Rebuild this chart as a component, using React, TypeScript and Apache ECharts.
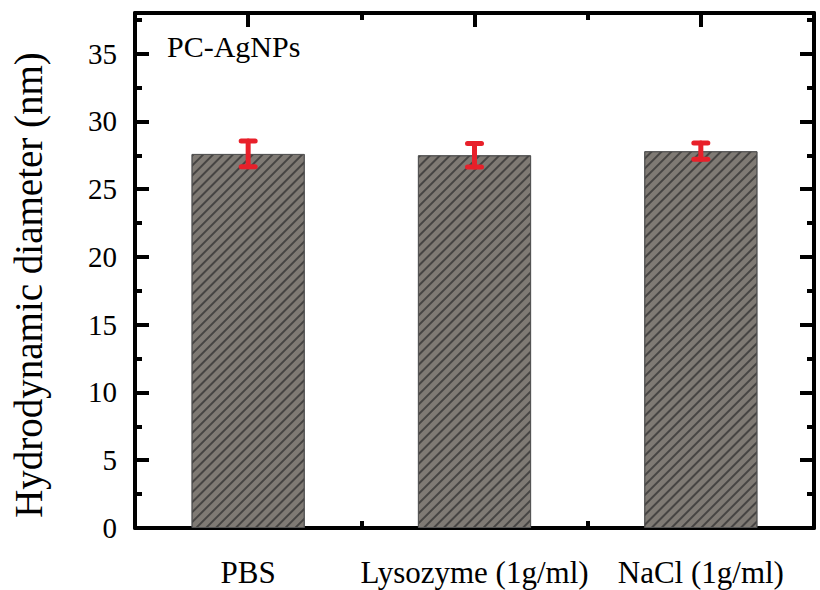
import React, { useEffect, useRef } from "react";
import * as echarts from "echarts";

const categories = ["PBS", "Lysozyme (1g/ml)", "NaCl (1g/ml)"];
const diameters = [27.6, 27.5, 27.8];
const errors = [0.95, 0.87, 0.6];
const yTitle = "Hydrodynamic diameter (nm)";
const panelLabel = "PC-AgNPs";

const FONT = "'Liberation Serif', 'Times New Roman', serif";

export default function App() {
  const ref = useRef<HTMLDivElement>(null);
  useEffect(() => {
    document.body.style.margin = "0";
    const chart = echarts.init(ref.current!, null, { renderer: "svg" });
    const axisLineStyle = { color: "#000", width: 4 };
    const hiddenLabel = { show: false };
    const baseX = {
      type: "category" as const,
      data: categories,
      axisLine: { show: false, onZero: false },
      axisLabel: hiddenLabel,
      splitLine: { show: false },
    };
    const baseY = {
      type: "value" as const,
      min: 0,
      max: 38,
      axisLine: { show: false, onZero: false },
      axisLabel: hiddenLabel,
      splitLine: { show: false },
    };
    const option: any = {
      animation: false,
      backgroundColor: "#fff",
      grid: { left: 135, right: 6, top: 13, bottom: 62, containLabel: false },
      xAxis: [
        {
          ...baseX,
          position: "bottom",
          axisLine: { show: true, onZero: false, lineStyle: axisLineStyle },
          axisTick: { show: true, inside: true, alignWithLabel: true, length: 14, lineStyle: { color: "#000", width: 4 } },
          axisLabel: { show: true, color: "#000", fontSize: 31, fontFamily: FONT, margin: 29, interval: 0 },
        },
        {
          ...baseX,
          position: "bottom",
          axisTick: { show: true, inside: true, length: 7, lineStyle: { color: "#000", width: 4 } },
        },
        {
          ...baseX,
          position: "top",
          axisLine: { show: true, onZero: false, lineStyle: axisLineStyle },
          axisTick: { show: true, inside: true, alignWithLabel: true, length: 14, lineStyle: { color: "#000", width: 4 } },
        },
        {
          ...baseX,
          position: "top",
          axisTick: { show: true, inside: true, length: 7, lineStyle: { color: "#000", width: 4 } },
        },
      ],
      yAxis: [
        {
          ...baseY,
          position: "left",
          interval: 5,
          axisLine: { show: true, onZero: false, lineStyle: axisLineStyle },
          axisTick: { show: true, inside: true, length: 14, lineStyle: { color: "#000", width: 4 } },
          axisLabel: { show: true, color: "#000", fontSize: 29, fontFamily: FONT, margin: 18, showMaxLabel: false },
        },
        {
          ...baseY,
          position: "left",
          interval: 2.5,
          axisTick: { show: true, inside: true, length: 7, lineStyle: { color: "#000", width: 4 } },
        },
        {
          ...baseY,
          position: "right",
          interval: 5,
          axisLine: { show: true, onZero: false, lineStyle: axisLineStyle },
          axisTick: { show: true, inside: true, length: 14, lineStyle: { color: "#000", width: 4 } },
        },
        {
          ...baseY,
          position: "right",
          interval: 2.5,
          axisTick: { show: true, inside: true, length: 7, lineStyle: { color: "#000", width: 4 } },
        },
      ],
      series: [
        {
          type: "bar",
          xAxisIndex: 0,
          yAxisIndex: 0,
          data: diameters,
          barWidth: "50%",
          itemStyle: {
            color: "#7f7a74",
            borderColor: "#555",
            borderWidth: 1,
            decal: {
              symbol: "rect",
              symbolSize: 1,
              dashArrayX: [[1, 0]],
              dashArrayY: [1.5, 4.5],
              rotation: -Math.PI / 4,
              color: "rgba(45,45,45,0.7)",
            },
          },
        },
        {
          type: "custom",
          xAxisIndex: 0,
          yAxisIndex: 0,
          data: diameters.map((v, i) => [i, v - errors[i], v + errors[i]]),
          renderItem: (params: any, api: any) => {
            const i = api.value(0);
            const lo = api.coord([i, api.value(1)]);
            const hi = api.coord([i, api.value(2)]);
            const half = 7;
            const style = { stroke: "#e8202a", lineWidth: 5, lineCap: "round" };
            return {
              type: "group",
              children: [
                { type: "line", shape: { x1: lo[0], y1: lo[1], x2: hi[0], y2: hi[1] }, style },
                { type: "line", shape: { x1: hi[0] - half, y1: hi[1], x2: hi[0] + half, y2: hi[1] }, style },
                { type: "line", shape: { x1: lo[0] - half, y1: lo[1], x2: lo[0] + half, y2: lo[1] }, style },
              ],
            };
          },
          z: 5,
        },
      ],
      graphic: [
        {
          type: "text",
          x: 28,
          y: 285,
          rotation: Math.PI / 2,
          style: {
            text: yTitle,
            font: `39px ${FONT}`,
            fill: "#000",
            align: "center",
            verticalAlign: "middle",
          },
        },
        {
          type: "text",
          x: 167,
          y: 46,
          style: {
            text: panelLabel,
            font: `30px ${FONT}`,
            fill: "#000",
            align: "left",
            verticalAlign: "middle",
          },
        },
      ],
    };
    chart.setOption(option);
    return () => chart.dispose();
  }, []);
  return <div ref={ref} style={{ width: 820, height: 590 }} />;
}
